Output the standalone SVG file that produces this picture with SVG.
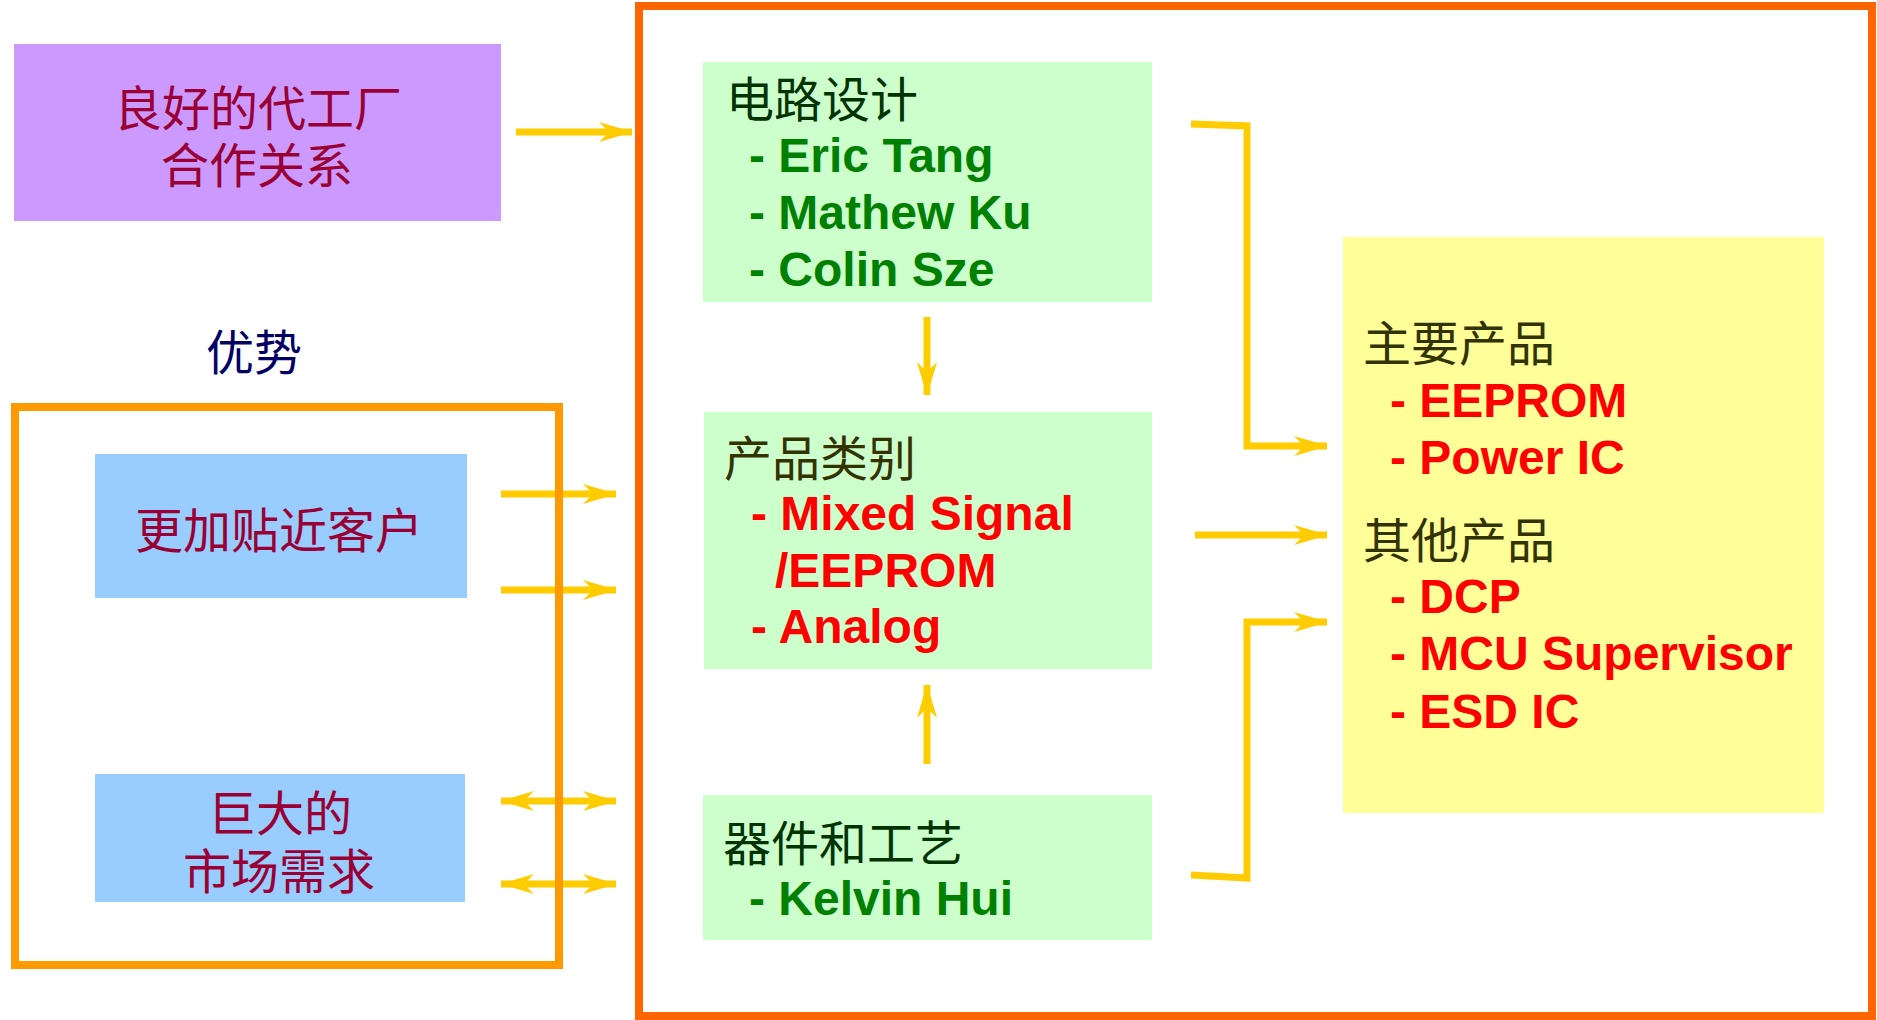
<svg xmlns="http://www.w3.org/2000/svg" width="1877" height="1020" viewBox="0 0 1877 1020">
<defs>
<style>
.cjk{font-family:"Noto Sans CJK SC","Liberation Sans",sans-serif;font-size:48px}
.en{font-family:"Liberation Sans",Arial,sans-serif;font-size:48px;font-weight:bold}
.conn{fill:none;stroke:#FFCC00;stroke-width:7}
.grn{fill:#CCFFCC}
.blue{fill:#99CCFF}
.red{fill:#FF0000}
.dg{fill:#008000}
</style>
<marker id="ah" viewBox="0 0 34 20" markerUnits="userSpaceOnUse" markerWidth="34" markerHeight="20" refX="33" refY="10" orient="auto-start-reverse">
<path d="M0,0 L34,10 L0,20 L10,10 Z" fill="#FFCC00"/>
</marker>
</defs>
<rect width="1877" height="1020" fill="#FFFFFF"/>

<g id="frame-main">
<rect x="639" y="6" width="1233" height="1010" fill="none" stroke="#FF6600" stroke-width="8"/>
</g>

<g id="node-foundry">
<rect x="14" y="44" width="487" height="177" fill="#CC99FF"/>
<text class="cjk" x="258" y="126" text-anchor="middle" fill="#990033">良好的代工厂</text>
<text class="cjk" x="257" y="183" text-anchor="middle" fill="#990033">合作关系</text>
</g>

<g id="label-advantage">
<text class="cjk" x="254" y="370" text-anchor="middle" fill="#000066">优势</text>
</g>

<g id="node-customer">
<rect class="blue" x="95" y="454" width="372" height="144"/>
<text class="cjk" x="279" y="548" text-anchor="middle" fill="#990033">更加贴近客户</text>
</g>

<g id="node-market">
<rect class="blue" x="95" y="774" width="370" height="128"/>
<text class="cjk" x="280" y="831" text-anchor="middle" fill="#990033">巨大的</text>
<text class="cjk" x="279" y="889" text-anchor="middle" fill="#990033">市场需求</text>
</g>

<g id="node-design">
<rect class="grn" x="703" y="62" width="449" height="240"/>
<text class="cjk" x="726" y="117" fill="#003300">电路设计</text>
<text class="en dg" x="749" y="172">- Eric Tang</text>
<text class="en dg" x="749" y="229">- Mathew Ku</text>
<text class="en dg" x="749" y="286">- Colin Sze</text>
</g>

<g id="node-category">
<rect class="grn" x="704" y="412" width="448" height="257"/>
<text class="cjk" x="724" y="476" fill="#333300">产品类别</text>
<text class="en red" x="751" y="530">- Mixed Signal</text>
<text class="en red" x="775" y="587">/EEPROM</text>
<text class="en red" x="751" y="643">- Analog</text>
</g>

<g id="node-process">
<rect class="grn" x="703" y="795" width="449" height="145"/>
<text class="cjk" x="723" y="861" fill="#003300">器件和工艺</text>
<text class="en dg" x="749" y="915">- Kelvin Hui</text>
</g>

<g id="node-products">
<rect x="1343" y="237" width="481" height="576" fill="#FFFF99"/>
<text class="cjk" x="1363" y="361" fill="#333300">主要产品</text>
<text class="en red" x="1390" y="417">- EEPROM</text>
<text class="en red" x="1390" y="474">- Power IC</text>
<text class="cjk" x="1363" y="558" fill="#333300">其他产品</text>
<text class="en red" x="1390" y="613">- DCP</text>
<text class="en red" x="1390" y="670">- MCU Supervisor</text>
<text class="en red" x="1390" y="728">- ESD IC</text>
</g>

<g id="connectors">
<path class="conn" d="M516,132 H632" marker-end="url(#ah)"/>
<path class="conn" d="M501,494 H616" marker-end="url(#ah)"/>
<path class="conn" d="M501,590 H616" marker-end="url(#ah)"/>
<path class="conn" d="M501,801 H616" marker-start="url(#ah)" marker-end="url(#ah)"/>
<path class="conn" d="M501,884 H616" marker-start="url(#ah)" marker-end="url(#ah)"/>
<path class="conn" d="M927,317 V395" marker-end="url(#ah)"/>
<path class="conn" d="M927,764 V685" marker-end="url(#ah)"/>
<path class="conn" d="M1191,124 L1247,126 V446 H1327" marker-end="url(#ah)"/>
<path class="conn" d="M1195,535 H1327" marker-end="url(#ah)"/>
<path class="conn" d="M1191,875 L1247,878 V622 H1327" marker-end="url(#ah)"/>
</g>

<g id="frame-advantage">
<rect x="15" y="407" width="544" height="558" fill="none" stroke="#FF9900" stroke-width="8"/>
</g>
</svg>
